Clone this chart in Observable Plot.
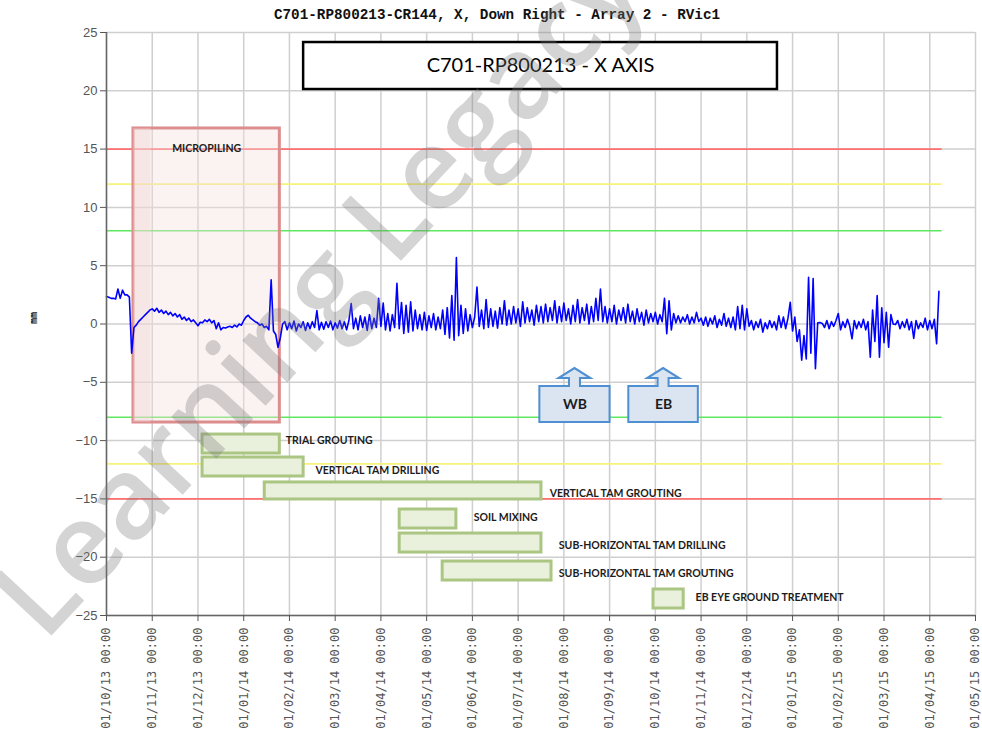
<!DOCTYPE html>
<html><head><meta charset="utf-8">
<script src="https://cdn.jsdelivr.net/npm/d3@7"></script>
<script src="https://cdn.jsdelivr.net/npm/@observablehq/plot@0.6"></script>
<style>
body{margin:0;background:#fff;}
#wrap{position:relative;width:982px;height:733px;overflow:hidden;}
#title{position:absolute;left:0;width:994px;top:7px;text-align:center;font:bold 14.3px "Liberation Mono","DejaVu Sans Mono",monospace;color:#111;white-space:nowrap;}
#wm{position:absolute;left:-45px;top:560px;transform-origin:0 0;transform:rotate(-47deg);font:600 114px "Open Sans",sans-serif;color:rgba(120,120,120,0.32);white-space:nowrap;pointer-events:none;}
</style></head><body>
<div id="wrap"><div id="chart"></div><div id="title">C701-RP800213-CR144, X, Down Right - Array 2 - RVic1</div><div id="wm">Learning Legacy</div></div>
<script>
// ---- tick labels (x = months since 01/10/13) ----
const monthLabels = ["01/10/13 00:00","01/11/13 00:00","01/12/13 00:00","01/01/14 00:00","01/02/14 00:00","01/03/14 00:00","01/04/14 00:00","01/05/14 00:00","01/06/14 00:00","01/07/14 00:00","01/08/14 00:00","01/09/14 00:00","01/10/14 00:00","01/11/14 00:00","01/12/14 00:00","01/01/15 00:00","01/02/15 00:00","01/03/15 00:00","01/04/15 00:00","01/05/15 00:00"];
const yTicks = [-25,-20,-15,-10,-5,0,5,10,15,20,25];

// ---- displacement readings (mm), one every 0.05 month from 01/10/13 ----
const sampleStep = 0.05;
const displacement = [
 2.36,2.3,2.2,2.2,2.15,3.0,2.2,2.9,2.5,2.5,2.3,
 -2.5,
 -0.3,-0.1,0.2,0.4,0.6,0.8,1.0,1.2,1.3,
 1.1,1.35,1.0,1.2,0.9,1.1,0.8,1.0,0.7,0.9,0.6,0.8,0.4,0.6,0.3,0.5,0.2,0.35,0.1,
 -0.15,0.15,0.1,0.35,0.2,0.4,0.1,0.3,-0.4,0.1,-0.5,-0.3,-0.35,-0.25,-0.2,-0.3,-0.1,-0.25,0.0,-0.1,
 0.3,0.6,0.75,0.5,0.35,0.2,0.1,-0.1,0.0,-0.3,-0.2,-0.5,3.8,-0.6,-0.9,-2.0,-1.2,0.0,
 0.2,-0.5,0.1,-0.4,0.25,-0.6,0.0,-0.3,0.2,-0.55,0.1,-0.4,0.2,-0.3,1.15,-0.5,0.15,-0.45,0.2,-0.3,0.25,-0.5,0.1,-0.35,0.3,-0.4,0.2,-0.5,0.3,1.75,-0.4,
 0.5,-0.5,0.7,-0.3,0.6,-0.55,0.8,-0.4,0.5,-0.3,2.2,-0.2,1.8,-0.5,0.9,-0.6,0.8,-0.3,3.5,-0.4,
 1.85,-0.8,1.6,-0.7,1.9,-0.6,1.2,-0.4,
 0.8,-0.5,1.0,-0.55,0.7,-0.3,0.9,-0.5,0.6,-0.4,
 1.2,-0.9,1.4,-1.2,2.44,-1.4,5.7,-1.0,1.6,-0.8,1.3,-0.6,0.8,-0.3,0.6,3.16,-0.2,
 1.2,-0.4,2.1,-0.3,1.3,-0.2,1.1,-0.35,1.4,0.0,2.0,-0.1,1.2,0.0,1.5,0.1,1.3,-0.2,1.9,0.1,1.4,0.2,1.2,-0.1,1.6,0.2,1.5,
 0.1,1.7,0.2,1.4,0.3,2.0,0.1,1.5,0.2,1.8,0.3,1.3,0.0,1.6,0.2,2.1,0.1,1.4,0.3,1.7,0.0,1.5,0.2,2.2,0.3,3.0,0.2,
 1.5,0.1,1.3,0.2,1.6,0.0,1.2,0.3,1.4,0.1,1.7,0.2,1.1,0.0,1.3,0.2,1.0,-0.1,1.2,0.1,0.9,0.2,1.0,0.0,
 0.8,0.2,2.2,-0.84,2.0,-0.5,0.9,0.1,
 0.7,0.1,0.6,0.2,0.8,0.0,0.6,0.1,1.0,0.2,0.5,
 -0.1,0.6,-0.2,0.5,0.0,0.7,-0.3,0.4,-0.1,0.9,-0.2,0.5,-0.3,0.6,
 -0.5,1.5,-0.4,1.6,-0.5,1.3,-0.2,
 0.3,-0.5,0.2,-0.3,0.4,-0.7,0.1,-0.4,0.3,-0.3,0.2,
 -0.5,0.7,-0.3,0.6,-0.4,0.5,1.87,-0.6,
 0.6,-1.5,-0.5,-3.1,-1.0,-3.0,4.0,-2.5,3.9,-3.84,0.1,
 0.12,0.05,
 -0.3,0.3,-0.4,0.2,-0.2,0.3,0.9,-0.5,0.2,-0.3,0.4,-0.2,-1.27,0.3,-0.4,0.2,-0.3,0.4,-0.5,0.2,
 -2.85,1.2,-1.5,2.44,-2.85,1.4,-1.6,1.0,-2.0,0.8,
 0.0,-0.05,
 0.3,-0.4,0.2,-0.3,0.4,-0.5,0.2,-1.24,0.3,-0.4,0.1,-0.3,0.5,-0.5,0.3,-0.4,0.4,-1.7,2.8
];

// ---- trigger levels (mm) ----
const limitValues = [15, 12, 8, -8, -12, -15];
const limitLevels = ["alarm","alert","review","review","alert","alarm"];
const limitEnd = 18.27;

// ---- micropiling period ----
const microStart = 0.59, microEnd = 3.79, microTop = 16.77, microBottom = -8.45;
const microLabel = "MICROPILING", microLabelX = 2.19, microLabelY = 15.05;

// ---- construction activities ----
const actNames  = ["TRIAL GROUTING","VERTICAL TAM DRILLING","VERTICAL TAM GROUTING","SOIL MIXING","SUB-HORIZONTAL TAM DRILLING","SUB-HORIZONTAL TAM GROUTING","EB EYE GROUND TREATMENT"];
const actStart  = [2.10, 2.10, 3.46, 6.41, 6.41, 7.35, 11.96];
const actEnd    = [3.79, 4.31, 9.51, 7.65, 9.51, 9.73, 12.62];
const actTop    = [-9.48, -11.45, -13.59, -15.91, -17.97, -20.37, -22.77];
const actBottom = [-11.11, -13.08, -15.05, -17.54, -19.6, -22.0, -24.4];
const actLabelX = [3.92, 4.57, 9.69, 8.03, 9.89, 9.89, 12.88];
const actLabelY = [-9.99, -12.56, -14.54, -16.6, -19.0, -21.4, -23.46];

// ---- bound markers ----
const calloutNames = ["WB","EB"];
const calloutX1 = [9.475, 11.42];
const calloutX2 = [11.01, 12.94];
const calloutTop = -5.36, calloutBottom = -8.45, arrowTip = -3.82, arrowBase = -4.68;

// ---- header box ----
const headerText = "C701-RP800213 - X AXIS";
const headerX1 = 4.31, headerX2 = 14.67, headerY1 = 20.11, headerY2 = 24.14;

// ---------- build ----------
const series = displacement.map((v, i) => ({m: i * sampleStep, v}));
const monthIdx = monthLabels.map((_, i) => i);
const levelColor = {alarm: "#ff6f6f", alert: "#f6f27a", review: "#5fe85f"};
const limits = limitValues.map((v, i) => ({v, c: levelColor[limitLevels[i]]}));
const acts = actNames.map((n, i) => ({n, x1: actStart[i], x2: actEnd[i], y1: actBottom[i], y2: actTop[i], lx: actLabelX[i], ly: actLabelY[i]}));
const callouts = calloutNames.map((n, i) => ({n, x1: calloutX1[i], x2: calloutX2[i]}));

function calloutShapes(index, scales) {
  const g = d3.create("svg:g");
  for (const c of callouts) {
    const x1 = scales.x(c.x1), x2 = scales.x(c.x2);
    const yt = scales.y(calloutTop), yb = scales.y(calloutBottom);
    const ytip = scales.y(arrowTip), yh = scales.y(arrowBase);
    const cx = (x1 + x2) / 2, hw = 16, sw = 5.5;
    const d = `M${x1},${yb}L${x1},${yt}L${cx-sw},${yt}L${cx-sw},${yh}L${cx-hw},${yh}L${cx},${ytip}L${cx+hw},${yh}L${cx+sw},${yh}L${cx+sw},${yt}L${x2},${yt}L${x2},${yb}Z`;
    g.append("path").attr("d", d).attr("fill", "#dbe5f1").attr("stroke", "#4d8fd1").attr("stroke-width", 2);
  }
  return g.node();
}

const chart = Plot.plot({
  width: 982, height: 733,
  marginTop: 32, marginBottom: 118, marginLeft: 106, marginRight: 7,
  x: {type: "linear", domain: [0, 19]},
  y: {domain: [-25, 25]},
  style: {background: "#fff", fontFamily: "Liberation Sans, sans-serif"},
  marks: [
    Plot.gridX(monthIdx, {stroke: "#cfcfcf", strokeOpacity: 1, strokeWidth: 1.5}),
    Plot.gridY(yTicks, {stroke: "#cfcfcf", strokeOpacity: 1, strokeWidth: 1.5}),
    Plot.ruleY(limits, {y: "v", x1: 0, x2: limitEnd, stroke: "c", strokeWidth: 1.6}),
    Plot.rect([{}], {x1: microStart, x2: microEnd, y1: microBottom, y2: microTop, fill: "#f6dede", fillOpacity: 0.4, stroke: "#dc8e8e", strokeWidth: 3}),
    Plot.rect([{}], {x1: microStart, x2: microStart + 0.38, y1: microBottom, y2: microTop, fill: "#f2d2d2", fillOpacity: 0.35}),
    Plot.line(series, {x: "m", y: "v", stroke: "#0000ff", strokeWidth: 1.6}),
    Plot.rect(acts, {x1: "x1", x2: "x2", y1: "y1", y2: "y2", fill: "#e9f0dc", stroke: "#abc683", strokeWidth: 3}),
    Plot.text(acts, {x: "lx", y: "ly", text: "n", textAnchor: "start", fontFamily: "Lato", fontWeight: "bold", fontSize: 10.5, fill: "#1c1c1c"}),
    Plot.text([microLabel], {x: microLabelX, y: microLabelY, text: d => d, fontFamily: "Lato", fontWeight: "bold", fontSize: 10.5, fill: "#1c1c1c"}),
    calloutShapes,
    Plot.text(callouts, {x: d => (d.x1 + d.x2) / 2, y: (calloutTop + calloutBottom) / 2, text: "n", fontFamily: "Lato", fontWeight: "bold", fontSize: 14, fill: "#1c1c1c"}),
    Plot.rect([{}], {x1: headerX1, x2: headerX2, y1: headerY1, y2: headerY2, fill: "#fff", stroke: "#000", strokeWidth: 2.5}),
    Plot.text([headerText], {x: (headerX1 + headerX2) / 2, y: (headerY1 + headerY2) / 2, text: d => d, fontFamily: "Lato", fontSize: 20, fill: "#000"}),
    Plot.ruleX([0], {stroke: "#666", strokeWidth: 1.5}),
    Plot.ruleY([-25], {stroke: "#666", strokeWidth: 1.5}),
    Plot.axisY(yTicks, {tickSize: 6, tickPadding: 3, fontSize: 13, color: "#555", label: null}),
    Plot.axisX(monthIdx, {tickSize: 6, tickPadding: 6, tickRotate: -90, tickFormat: i => monthLabels[i], fontSize: 12, fontFamily: "DejaVu Sans Mono", color: "#555", label: null}),
    Plot.text(["mm"], {frameAnchor: "left", dx: -73, rotate: -90, text: d => d, fontFamily: "DejaVu Sans Mono", fontWeight: "bold", fontSize: 10, fill: "#111"})
  ]
});
document.getElementById("chart").appendChild(chart);
</script>
</body></html>
